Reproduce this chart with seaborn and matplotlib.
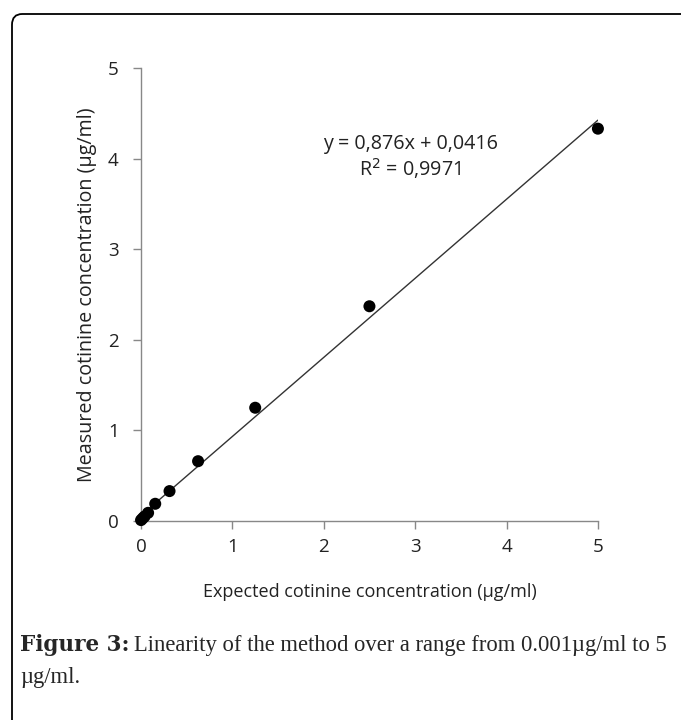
import seaborn as sns
import matplotlib.pyplot as plt
import pandas as pd
from matplotlib.patches import FancyBboxPatch

# expected vs measured cotinine (ug/ml)
expected = [0.001, 0.0195, 0.039, 0.078, 0.156, 0.3125, 0.625, 1.25, 2.5, 5.0]
measured = [0.01, 0.03, 0.05, 0.09, 0.19, 0.33, 0.66, 1.25, 2.37, 4.33]
ticks = [0, 1, 2, 3, 4, 5]
eq_text = 'y = 0,876x + 0,0416'
r2_text = 'R$^{2}$ = 0,9971'

df = pd.DataFrame({'expected': expected, 'measured': measured})

sns.set_style('white')
plt.rcParams['font.family'] = ['Open Sans', 'DejaVu Sans']

fig = plt.figure(figsize=(6.81, 7.2), dpi=100)
ax = fig.add_axes([0.207, 0.2764, 0.671, 0.6292])

sns.regplot(data=df, x='expected', y='measured', ax=ax, ci=None,
            scatter_kws={'s': 75, 'color': 'black', 'alpha': 1, 'edgecolor': 'none',
                         'clip_on': False, 'zorder': 3},
            line_kws={'color': '#333333', 'lw': 1.0})

ax.set_xlim(0, 5)
ax.set_ylim(0, 5)
ax.set_xticks(ticks)
ax.set_yticks(ticks)
ax.tick_params(axis='both', length=6, width=1, color='#888888', labelsize=13.5,
               labelcolor='#222222', direction='out', bottom=True, left=True)
ax.tick_params(axis='x', pad=6)
ax.tick_params(axis='y', pad=10)
for s in ['top', 'right']:
    ax.spines[s].set_visible(False)
for s in ['left', 'bottom']:
    ax.spines[s].set_color('#888888')
    ax.spines[s].set_linewidth(1)

ax.set_xlabel('Expected cotinine concentration (µg/ml)', fontsize=13,
              labelpad=20, color='#222222')
ax.set_ylabel('Measured cotinine concentration (µg/ml)', fontsize=14.2,
              labelpad=8, color='#222222')

ax.text(2.95, 4.16, eq_text, fontsize=14.2, ha='center', va='center', color='#222222')
ax.text(2.95, 3.89, r2_text, fontsize=14.2, ha='center', va='center', color='#222222')

# rounded frame around the figure
frame = FancyBboxPatch((12 / 681, -0.2), 1.2, 1.2 - 14 / 720,
                       boxstyle='round,pad=0,rounding_size=0.015',
                       transform=fig.transFigure, fill=False,
                       edgecolor='black', lw=1.3)
fig.patches.append(frame)

# caption
serif = ['Liberation Serif', 'DejaVu Serif']
bold = fig.text(20 / 681, 1 - 645 / 720, 'Figure 3:', fontsize=15.5,
                fontweight='bold', family=['DejaVu Serif'], va='center', ha='left')
fig.canvas.draw()
bb = bold.get_window_extent()
fig.text((bb.x1 + 5) / 681, 1 - 645 / 720,
         'Linearity of the method over a range from 0.001µg/ml to 5',
         fontsize=16.3, family=serif, va='center', ha='left')
fig.text(20 / 681, 1 - 677 / 720, 'µg/ml.', fontsize=16.3, family=serif,
         va='center', ha='left')

fig.savefig('out.png', dpi=100)
